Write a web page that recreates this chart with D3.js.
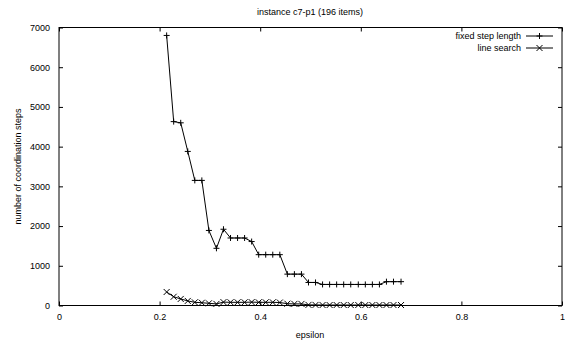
<!DOCTYPE html>
<html>
<head>
<meta charset="utf-8">
<script src="https://cdn.jsdelivr.net/npm/d3@7"></script>
<style>
  body { margin: 0; background: #fff; }
  svg { display: block; font-family: "Liberation Sans", Arial, sans-serif; }
  .axis path { display: none; }
  .axis line { stroke: #000; }
  .axis text { fill: #000; font-size: 9px; }
</style>
</head>
<body>
<div id="chart"></div>
<script>
// epsilon values (x)
var epsilons = [0.214, 0.228, 0.242, 0.256, 0.270, 0.284, 0.298, 0.313, 0.327, 0.341,
                0.355, 0.369, 0.383, 0.397, 0.411, 0.425, 0.439, 0.454, 0.468, 0.482,
                0.496, 0.510, 0.524, 0.538, 0.552, 0.566, 0.580, 0.595, 0.609, 0.623,
                0.637, 0.651, 0.665, 0.680];

var fixedStep = [6800, 4630, 4600, 3880, 3150, 3150, 1890, 1440, 1920, 1700,
                 1700, 1700, 1610, 1280, 1280, 1280, 1280, 790, 790, 790,
                 580, 580, 530, 530, 530, 530, 530, 530, 530, 530,
                 530, 600, 600, 600];

var lineSearch = [340, 220, 165, 115, 80, 70, 55, 40, 85, 80,
                  80, 80, 85, 80, 80, 80, 75, 45, 40, 40,
                  15, 15, 12, 12, 12, 12, 12, 12, 12, 12,
                  12, 12, 12, 12];

var xTicks = [0, 0.2, 0.4, 0.6, 0.8, 1];
var yTicks = [0, 1000, 2000, 3000, 4000, 5000, 6000, 7000];

var seriesNames = ["fixed step length", "line search"];

var width = 565, height = 344;
var margin = {top: 27.5, left: 59, right: 3, bottom: 38.5};

var svg = d3.select("#chart").append("svg")
    .attr("width", width)
    .attr("height", height);

var x = d3.scaleLinear().domain([0, 1]).range([margin.left, width - margin.right]);
var y = d3.scaleLinear().domain([0, 7000]).range([height - margin.bottom, margin.top]);

//////////////// axes (gnuplot style: ticks inside, mirrored) ////////////////
var tickLen = 4;
var fmtX = function(d) { return String(d); };

svg.append("g").attr("class", "axis")
    .attr("transform", "translate(0," + y(0) + ")")
    .call(d3.axisBottom(x).tickValues(xTicks).tickFormat(fmtX).tickSizeInner(-tickLen).tickSizeOuter(0).tickPadding(8));

svg.append("g").attr("class", "axis")
    .attr("transform", "translate(0," + y(7000) + ")")
    .call(d3.axisTop(x).tickValues(xTicks).tickFormat("").tickSizeInner(-tickLen).tickSizeOuter(0));

svg.append("g").attr("class", "axis")
    .attr("transform", "translate(" + x(0) + ",0)")
    .call(d3.axisLeft(y).tickValues(yTicks).tickFormat(d3.format("d")).tickSizeInner(-tickLen).tickSizeOuter(0).tickPadding(9));

svg.append("g").attr("class", "axis")
    .attr("transform", "translate(" + x(1) + ",0)")
    .call(d3.axisRight(y).tickValues(yTicks).tickFormat("").tickSizeInner(-tickLen).tickSizeOuter(0));

// frame
svg.append("rect")
    .attr("x", x(0)).attr("y", y(7000))
    .attr("width", x(1) - x(0)).attr("height", y(0) - y(7000))
    .attr("fill", "none").attr("stroke", "#000").attr("stroke-width", 1);

//////////////// titles ////////////////
svg.append("text")
    .attr("x", 310).attr("y", 15)
    .attr("text-anchor", "middle").attr("font-size", 9)
    .text("instance c7-p1 (196 items)");

svg.append("text")
    .attr("x", 310).attr("y", 338)
    .attr("text-anchor", "middle").attr("font-size", 9)
    .text("epsilon");

svg.append("text")
    .attr("transform", "translate(21," + (y(3500)) + ") rotate(-90)")
    .attr("text-anchor", "middle").attr("font-size", 9)
    .text("number of coordination steps");

//////////////// lines ////////////////
var line = d3.line()
    .x(function(d) { return x(d.x); })
    .y(function(d) { return y(d.y); });

var fixedData = epsilons.map(function(e, i) { return {x: e, y: fixedStep[i]}; });
var searchData = epsilons.map(function(e, i) { return {x: e, y: lineSearch[i]}; });

svg.append("path").datum(fixedData)
    .attr("d", line).attr("fill", "none").attr("stroke", "#000").attr("stroke-width", 1);
svg.append("path").datum(searchData)
    .attr("d", line).attr("fill", "none").attr("stroke", "#000").attr("stroke-width", 1);

var m = 3; // marker half size
function plus(g, cx, cy) {
  g.append("path")
    .attr("d", "M" + (cx - m) + "," + cy + "H" + (cx + m) + "M" + cx + "," + (cy - m) + "V" + (cy + m))
    .attr("stroke", "#000").attr("stroke-width", 1).attr("fill", "none");
}
function cross(g, cx, cy) {
  g.append("path")
    .attr("d", "M" + (cx - m) + "," + (cy - m) + "L" + (cx + m) + "," + (cy + m) +
               "M" + (cx - m) + "," + (cy + m) + "L" + (cx + m) + "," + (cy - m))
    .attr("stroke", "#000").attr("stroke-width", 1).attr("fill", "none");
}

var marks = svg.append("g");
fixedData.forEach(function(d) { plus(marks, x(d.x), y(d.y)); });
searchData.forEach(function(d) { cross(marks, x(d.x), y(d.y)); });

//////////////// legend ////////////////
var legend = svg.append("g");
var legendRows = [36, 48];
seriesNames.forEach(function(name, i) {
  var ly = legendRows[i];
  legend.append("text")
    .attr("x", 521).attr("y", ly + 3)
    .attr("text-anchor", "end").attr("font-size", 9)
    .text(name);
  legend.append("line")
    .attr("x1", 526).attr("x2", 553).attr("y1", ly).attr("y2", ly)
    .attr("stroke", "#000").attr("stroke-width", 1);
  if (i === 0) plus(legend, 539.5, ly); else cross(legend, 539.5, ly);
});
</script>
</body>
</html>
